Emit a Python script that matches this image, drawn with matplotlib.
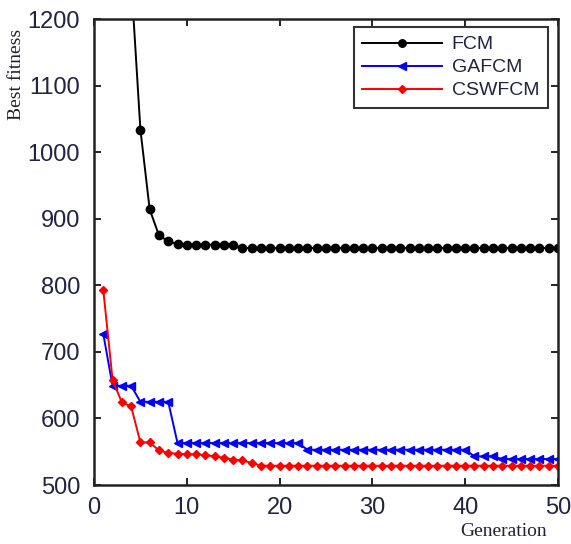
import matplotlib
matplotlib.use("Agg")
import matplotlib.pyplot as plt
import numpy as np

generations = list(range(1, 51))
fcm = [2000, 1800, 1500, 1260, 1034, 914, 875, 866, 862, 861,
       861, 861, 861, 861, 861] + [856] * 35
gafcm = [727, 649, 649, 649, 625, 625, 625, 625] + [563] * 14 + [553] * 18 + [543] * 3 + [539] * 7
cswfcm = [793, 658, 624, 618, 564, 564, 552, 548, 547, 546,
          546, 545, 543, 541, 538, 537, 533] + [529] * 33

legend_labels = ["FCM", "GAFCM", "CSWFCM"]
xticks = [0, 10, 20, 30, 40, 50]
yticks = [500, 600, 700, 800, 900, 1000, 1100, 1200]

W, H = 571, 544
fig = plt.figure(figsize=(W / 100, H / 100), dpi=100)
ax = fig.add_axes([94 / W, 1 - 485 / H, (558 - 94) / W, (485 - 19) / H])

ax.plot(generations, fcm, color="black", lw=1.4, marker="o", ms=6, label=legend_labels[0])
ax.plot(generations, gafcm, color="#0000ff", lw=1.4, marker="<", ms=6, label=legend_labels[1])
ax.plot(generations, cswfcm, color="#ff0000", lw=1.4, marker="D", ms=4, label=legend_labels[2])

ax.set_xlim(0, 50)
ax.set_ylim(500, 1200)
ax.set_xticks(xticks)
ax.set_yticks(yticks)
ax.tick_params(direction="in", length=5, width=1.2, top=True, right=True,
               labelsize=17, colors="black")
ax.tick_params(axis="x", pad=9)
ax.tick_params(axis="y", pad=10)
for lab in ax.get_xticklabels() + ax.get_yticklabels():
    lab.set_family("Liberation Sans")
    lab.set_color("#222244")
for s in ax.spines.values():
    s.set_linewidth(1.8)
    s.set_color("#222222")

leg = ax.legend(loc="upper right", bbox_to_anchor=(1 - 10 / 464, 1 - 8 / 466),
                prop={"family": "Liberation Sans", "size": 14},
                frameon=True, fancybox=False, edgecolor="black",
                borderpad=0.45, labelspacing=0.28, handlelength=4.1,
                handletextpad=0.5, borderaxespad=0.0, markerscale=0.9)
leg.get_frame().set_linewidth(1.5)
for t in leg.get_texts():
    t.set_color("#222244")

fig.text(17 / W, 1 - 74 / H, "Best fitness", rotation=90, ha="center", va="center",
         family="Liberation Serif", fontsize=14, color="#222233")
fig.text(504 / W, 1 - 531 / H, "Generation", ha="center", va="center",
         family="Liberation Serif", fontsize=14, color="#222233")

fig.savefig("out.png", dpi=100)
